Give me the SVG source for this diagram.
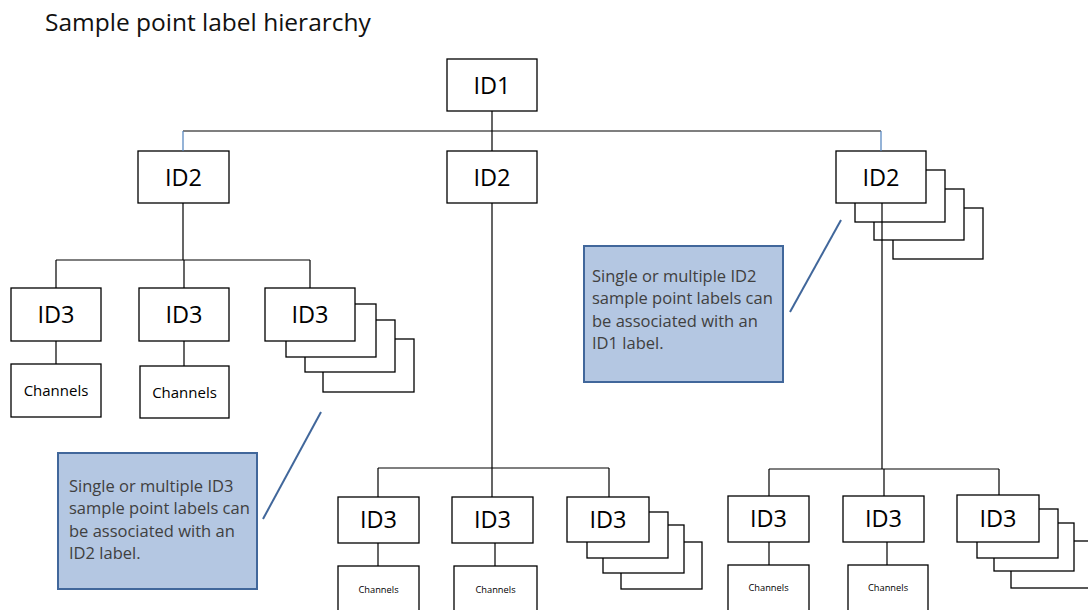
<svg xmlns="http://www.w3.org/2000/svg" width="1088" height="610" viewBox="0 0 1088 610">
<style>
.bg{fill:#fff}
.box{fill:#fff;stroke:#000;stroke-width:1.3}
.t{font-family:"Open Sans","Liberation Sans",sans-serif;fill:#000}
.id{font-size:23.5px;text-anchor:middle}
.ch{font-size:15px;text-anchor:middle}
.chs{font-size:9.3px;text-anchor:middle}
.title{font-size:24.5px;fill:#111}
.conn{stroke:#000;stroke-width:1.2;fill:none}
.blue{stroke:#4f81bd}
.callout{fill:#b4c7e2;stroke:#41679b;stroke-width:2}
.ct{font-size:16.5px;fill:#404040}
.ptr{stroke:#41679b;stroke-width:2;fill:none}
</style>
<rect class="bg" x="0" y="0" width="1088" height="610"/>
<text class="t title" x="45" y="31">Sample point label hierarchy</text>

<g id="id1"><rect class="box" x="447" y="59" width="90" height="52"/><text class="t id" x="492" y="94">ID1</text></g>

<g id="id2-left"><rect class="box" x="138" y="151" width="91" height="52"/><text class="t id" x="183.5" y="186">ID2</text></g>
<g id="id2-mid"><rect class="box" x="447" y="151" width="90" height="52"/><text class="t id" x="492" y="186">ID2</text></g>
<g id="id2-right">
<rect class="box" x="893" y="208" width="90" height="51"/>
<rect class="box" x="874" y="189" width="90" height="51"/>
<rect class="box" x="855" y="170" width="90" height="52"/>
<rect class="box" x="836" y="151" width="90" height="52"/><text class="t id" x="881" y="186">ID2</text></g>

<g id="id3-l1"><rect class="box" x="11" y="288" width="90" height="53"/><text class="t id" x="56" y="323">ID3</text></g>
<g id="id3-l2"><rect class="box" x="139" y="288" width="90" height="53"/><text class="t id" x="184" y="323">ID3</text></g>
<g id="id3-l3">
<rect class="box" x="323" y="339" width="91" height="53"/>
<rect class="box" x="305" y="320" width="90" height="52"/>
<rect class="box" x="286" y="304" width="90" height="53"/>
<rect class="box" x="265" y="288" width="90" height="53"/><text class="t id" x="310" y="323">ID3</text></g>
<g id="ch-l1"><rect class="box" x="11" y="364" width="90" height="53"/><text class="t ch" x="56" y="396">Channels</text></g>
<g id="ch-l2"><rect class="box" x="140" y="366" width="89" height="52"/><text class="t ch" x="184.5" y="398">Channels</text></g>

<g id="id3-m1"><rect class="box" x="338" y="497" width="81" height="46"/><text class="t id" x="378.5" y="528">ID3</text></g>
<g id="id3-m2"><rect class="box" x="452" y="497" width="81" height="46"/><text class="t id" x="492.5" y="528">ID3</text></g>
<g id="id3-m3">
<rect class="box" x="621" y="542" width="81" height="47"/>
<rect class="box" x="603" y="525" width="81" height="48"/>
<rect class="box" x="587" y="512" width="81" height="46"/>
<rect class="box" x="567" y="497" width="82" height="45"/><text class="t id" x="608" y="528">ID3</text></g>
<g id="ch-m1"><rect class="box" x="338" y="566" width="81" height="60"/><text class="t chs" x="378.5" y="593">Channels</text></g>
<g id="ch-m2"><rect class="box" x="454" y="566" width="83" height="60"/><text class="t chs" x="495.5" y="593">Channels</text></g>

<g id="id3-r1"><rect class="box" x="728" y="496" width="81" height="46"/><text class="t id" x="768.5" y="527">ID3</text></g>
<g id="id3-r2"><rect class="box" x="843" y="496" width="81" height="46"/><text class="t id" x="883.5" y="527">ID3</text></g>
<g id="id3-r3">
<rect class="box" x="1011" y="541" width="90" height="47"/>
<rect class="box" x="994" y="523" width="80" height="48"/>
<rect class="box" x="977" y="509" width="81" height="49"/>
<rect class="box" x="957" y="495" width="82" height="47"/><text class="t id" x="998" y="527">ID3</text></g>
<g id="ch-r1"><rect class="box" x="728" y="565" width="81" height="60"/><text class="t chs" x="768.5" y="591">Channels</text></g>
<g id="ch-r2"><rect class="box" x="848" y="565" width="80" height="60"/><text class="t chs" x="888" y="591">Channels</text></g>

<g id="callout-id2">
<rect class="callout" x="584" y="246" width="199" height="136"/>
<text class="t ct" x="592" y="282">Single or multiple ID2</text>
<text class="t ct" x="592" y="304">sample point labels can</text>
<text class="t ct" x="592" y="327">be associated with an</text>
<text class="t ct" x="592" y="349">ID1 label.</text>
</g>
<g id="callout-id3">
<rect class="callout" x="58" y="453" width="199" height="136"/>
<text class="t ct" x="69" y="492">Single or multiple ID3</text>
<text class="t ct" x="69" y="514">sample point labels can</text>
<text class="t ct" x="69" y="537">be associated with an</text>
<text class="t ct" x="69" y="559">ID2 label.</text>
</g>

<g id="connectors">
<path class="conn" d="M492 111V151M183 131H881"/>
<path class="conn blue" d="M183 131V151M881 131V151"/>
<path class="conn" d="M183 203V260M56 260H310M56 260V288M184 260V288M310 260V288"/>
<path class="conn" d="M56 341V364M184 341V366"/>
<path class="conn" d="M492 203V468M378 468H609M378 468V497M492 468V497M609 468V497"/>
<path class="conn" d="M378 543V566M495 543V566"/>
<path class="conn" d="M882 203V469M769 469H999M769 469V496M884 469V496M999 469V495"/>
<path class="conn" d="M769 542V565M887 542V565"/>
<path class="ptr" d="M841 220L790 312"/>
<path class="ptr" d="M321 412L263 519"/>
</g>
</svg>
